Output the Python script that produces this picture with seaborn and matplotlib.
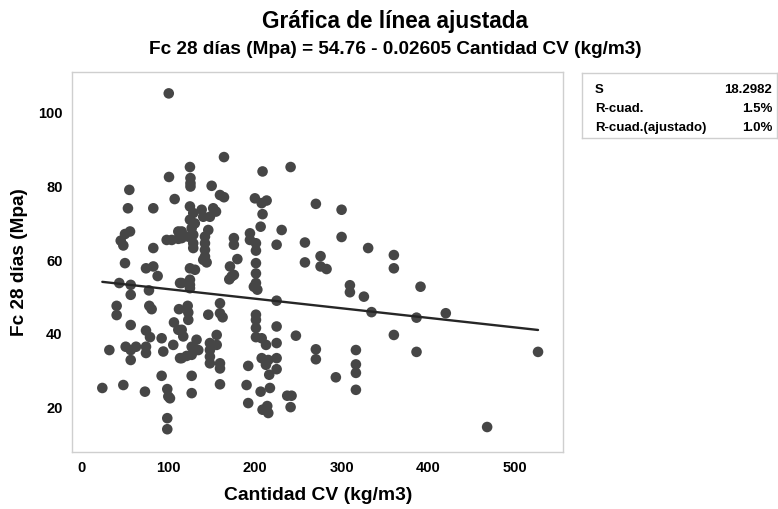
import matplotlib
matplotlib.use("Agg")
import matplotlib.pyplot as plt
import matplotlib.font_manager as fm
import seaborn as sns
import numpy as np
import pandas as pd

# ---- data ----
cantidad_cv = [
    24.5, 32.6, 41, 41, 44, 45.7, 48.7, 50.6, 56.4, 48.7, 50.6, 51.4, 57.2, 63.3, 57.2,
    57.2, 57.2, 57.2, 55.6, 54, 83.2, 83.2, 74.8, 83.2, 88.2, 78.2, 78.6, 81.3, 74.8, 79.4,
    74.8, 74.8, 92.8, 94.7, 73.6, 92.8, 99.3, 100.5, 99.3, 99.3, 98.6, 104.4, 101, 101.3, 107.8,
    106.2, 107, 112, 117.7, 112.8, 122.8, 123.5, 123.5, 114, 121.6, 127.4, 127.4, 133, 135, 131,
    127.4, 127.4, 112, 112, 114, 125.4, 131.2, 125.4, 125.4, 125.4, 125.4, 126, 126, 126, 125.4,
    129.2, 138.9, 131, 125.4, 127.4, 129.2, 123.5, 129.2, 129.2, 115.9, 115.9, 115.9, 115.9, 115.9,
    102.4, 140.7, 144.6, 142.7, 142.7, 142.7, 142.7, 146.5, 140.7, 148.4, 152.2, 155.4, 150.4, 160,
    164.6, 164.6, 146.5, 148.4, 148.4, 148.4, 148.4, 156.2, 156.2, 160, 160, 163, 160, 160, 160,
    171.5, 173.4, 176, 170.7, 180, 176, 176,
    194.5, 194.5, 201.4, 201.4, 201.4, 201.4, 201.4, 199, 203, 200.2, 208, 213.7, 209, 209, 206.8,
    201.4, 201.4, 201.4, 201.4, 208, 213, 208, 215.6, 212.9, 192.5, 216.7, 190.6, 206.8, 217.5,
    192.5, 209, 214.4, 215.6, 225.2, 225.2, 225.2, 225.2, 225.2, 225.2, 231, 237.4, 242.4, 241.3,
    241.3, 247.4,
    257.8, 257.8, 275.8, 275.8, 282.7, 270.4, 270.4, 270.4, 293.4, 300, 300, 309.6, 309.6, 316.5,
    316.5, 316.5, 316.5, 325.7, 330.6, 334.5, 360.2, 360.2, 360.2, 386.3, 386.3, 390.9, 420,
    467.6, 526.2,
]
fc_28_dias = [
    25.3, 35.6, 47.6, 45.1, 53.8, 65.3, 64, 67.1, 67.8, 26.1, 59.2, 36.5, 35.6, 36.5, 32.9,
    53.3, 50.6, 42.4, 79.1, 74.1, 74.1, 63.3, 57.8, 58.3, 55.7, 51.8, 47.6, 46.7, 40.9, 39.1,
    36.5, 34.8, 38.8, 35.2, 24.3, 28.6, 25, 23, 17.1, 14.1, 65.5, 65.5, 105.3, 82.6, 76.6,
    37, 43.1, 41.1, 39.3, 46.7, 47.6, 45.8, 43.8, 33.4, 34, 34.3, 36.5, 38.4, 35.6, 35.6,
    28.6, 23.9, 67.8, 65.8, 53.8, 57.8, 57.4, 54.7, 53.3, 52.4, 85.3, 82.3, 80.9, 80, 74.6,
    72.8, 73.7, 70, 71, 68.7, 66.9, 66.4, 64.6, 63.3, 67.8, 66, 53.8, 41.1, 33.4,
    22.5, 60.1, 59.4, 66.4, 64.6, 62.8, 61, 68.2, 71.8, 71.8, 74.1, 73.2, 80.2, 77.7,
    77.1, 88, 45.2, 37.5, 35.6, 33.8, 32, 37, 39.7, 48.3, 45.6, 44.5, 32, 30.6, 26.3,
    58.3, 55.6, 56, 54.8, 60.3, 66, 64.2,
    67.3, 65.5, 64.6, 62.6, 59.2, 56.4, 53.8, 52.8, 52, 76.8, 75.5, 76.2, 72.5, 84.1, 69.1,
    45.2, 43.8, 41.6, 39.1, 38.8, 37, 33.4, 32.9, 31.6, 31.3, 28.9, 26.1, 24.3, 25.3,
    21.2, 19.4, 20.4, 18.5, 49, 42, 37.5, 33.4, 30.4, 64.2, 68.2, 23.2, 23.2, 20.1,
    85.3, 39.5,
    64.8, 59.4, 61.1, 58.3, 57.6, 75.3, 35.8, 33.1, 28.2, 73.7, 66.3, 53.2, 51.3, 35.6,
    31.7, 29.4, 24.8, 50.1, 63.3, 45.9, 61.4, 57.8, 39.7, 44.4, 35.1, 52.8, 45.6,
    14.7, 35.1,
]
intercept = 54.76
slope = -0.02605
x_ticks = [0, 100, 200, 300, 400, 500]
y_ticks = [20, 40, 60, 80, 100]
stat_labels = ["S", "R-cuad.", "R-cuad.(ajustado)"]
stat_values = ["18.2982", "1.5%", "1.0%"]

title = "Gráfica de línea ajustada"
subtitle = "Fc 28 días (Mpa) = 54.76 - 0.02605 Cantidad CV (kg/m3)"
x_label = "Cantidad CV (kg/m3)"
y_label = "Fc 28 días (Mpa)"

df = pd.DataFrame({"x": cantidad_cv, "y": fc_28_dias})
xfit = np.array([min(cantidad_cv), max(cantidad_cv)])
fit_df = pd.DataFrame({"x": xfit, "y": intercept + slope * xfit})

# ---- style ----
sns.set_style("white")
installed = {f.name for f in fm.fontManager.ttflist}
fam = ["Liberation Sans Narrow", "Liberation Sans", "DejaVu Sans"]
fam = [f for f in fam if f in installed] or ["DejaVu Sans"]
plt.rcParams["font.family"] = fam
plt.rcParams["font.weight"] = "bold"
plt.rcParams["text.color"] = "black"
plt.rcParams["axes.labelcolor"] = "black"

fig = plt.figure(figsize=(7.78, 5.09), dpi=100)
ax = fig.add_axes([0.093, 0.1126, 0.6307, 0.7459])

sns.scatterplot(data=df, x="x", y="y", ax=ax, color="#464646", s=58,
                edgecolor="none", linewidth=0, zorder=3)
sns.lineplot(data=fit_df, x="x", y="y", ax=ax, color="#262626", linewidth=1.7,
             zorder=4)

ax.set_xlim(-10, 555)
ax.set_ylim(8, 111.1)
ax.set_xticks(x_ticks)
ax.set_yticks(y_ticks)
ax.set_xticklabels([str(v) for v in x_ticks], fontsize=10.5, fontweight="bold")
ax.set_yticklabels([str(v) for v in y_ticks], fontsize=10.5, fontweight="bold")
ax.tick_params(axis="both", direction="out", length=4, width=1, color="#c8c8c8",
               labelcolor="black", pad=3)
for sp in ax.spines.values():
    sp.set_color("#cfcfcf")
    sp.set_linewidth(1)
ax.set_xlabel(x_label, fontsize=13.9, fontweight="bold", labelpad=8, color="black")
ax.set_ylabel(y_label, fontsize=13.7, fontweight="bold", labelpad=7, color="black")

fig.text(0.508, 0.958, title, ha="center", va="center", fontsize=16.3,
         fontweight="bold", color="black")
fig.text(0.508, 0.903, subtitle, ha="center", va="center", fontsize=13.7,
         fontweight="bold", color="black")

# stats box
box_ax = fig.add_axes([582 / 778, 1 - 138 / 509, (777 - 582) / 778, (138 - 73) / 509])
box_ax.set_xticks([])
box_ax.set_yticks([])
for sp in box_ax.spines.values():
    sp.set_color("#cfcfcf")
    sp.set_linewidth(1)
ys = [0.74, 0.44, 0.16]
for lab, val, yy in zip(stat_labels, stat_values, ys):
    box_ax.text(0.065, yy, lab, ha="left", va="center", fontsize=9.5,
                fontweight="bold", color="black", transform=box_ax.transAxes)
    box_ax.text(0.975, yy, val, ha="right", va="center", fontsize=9.5,
                fontweight="bold", color="black", transform=box_ax.transAxes)

fig.savefig("out.png", dpi=100, facecolor="white")
